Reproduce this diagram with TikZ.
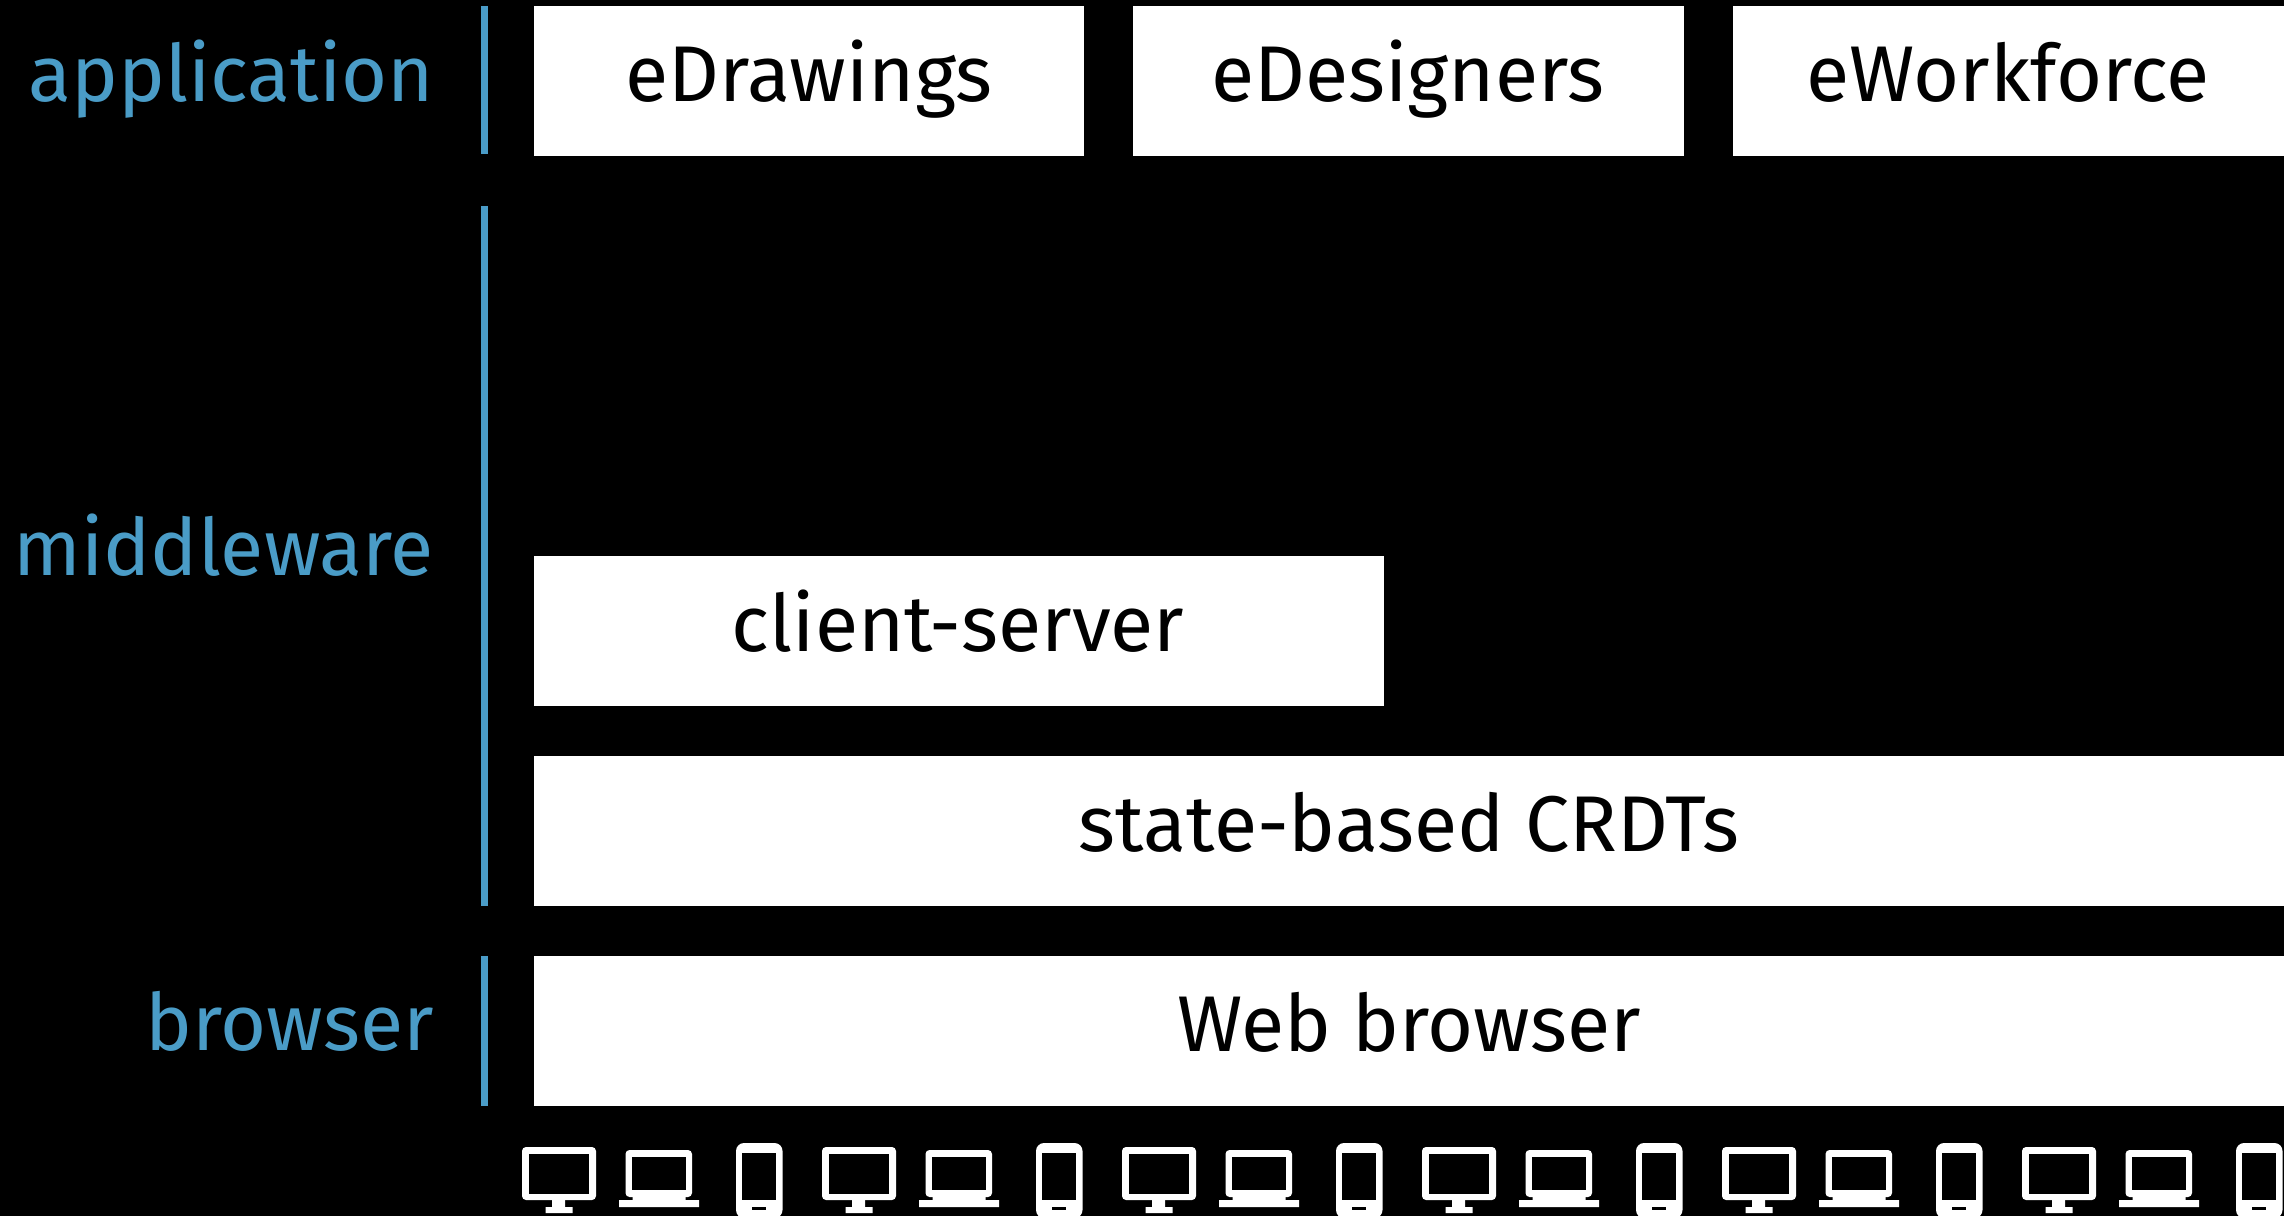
\documentclass[tikz,border=0pt]{standalone}
\usepackage{fontspec}
\setmainfont{Fira Sans}
\definecolor{layerblue}{HTML}{4A9CC7}
\tikzset{
  x=1pt,y=-1pt,
  layerlabel/.style={anchor=base east,inner sep=0pt,text=layerblue,font=\fontsize{79}{90}\selectfont},
  boxtext/.style={anchor=base,inner sep=0pt,text=black,font=\fontsize{79}{90}\selectfont},
}
\begin{document}
\begin{tikzpicture}
\fill[black] (0,0) rectangle (2284,1216);
\useasboundingbox (0,0) rectangle (2284,1216);
% bars
\fill[layerblue] (481,6) rectangle (488,154);
\fill[layerblue] (481,206) rectangle (488,906);
\fill[layerblue] (481,956) rectangle (488,1106);
% labels
\node[layerlabel] (lapp) at (434,101) {application};
\node[layerlabel] (lmid) at (434,575) {middleware};
\node[layerlabel] (lbro) at (434,1050) {browser};
% boxes
\fill[white] (534,6) rectangle (1084,156);
\fill[white] (1133,6) rectangle (1684,156);
\fill[white] (1733,6) rectangle (2284,156);
\fill[white] (534,556) rectangle (1384,706);
\fill[white] (534,756) rectangle (2284,906);
\fill[white] (534,956) rectangle (2284,1106);
\node[boxtext] (t1) at (809,101) {eDrawings};
\node[boxtext] (t2) at (1408,101) {eDesigners};
\node[boxtext] (t3) at (2008,101) {eWorkforce};
\node[boxtext] (t4) at (958,651) {client-server};
\node[boxtext] (t5) at (1409,851) {state-based CRDTs};
\node[boxtext] (t6) at (1409,1051) {Web browser};
% devices
\foreach \i in {0,...,5}{
\begin{scope}[xshift=\i*300pt]
  % desktop
  \fill[white,rounded corners=4pt] (522,1147) rectangle (596,1200);
  \fill[black] (529,1153.5) rectangle (589,1193.5);
  \fill[white] (552,1200) rectangle (565,1207) (545.5,1207) rectangle (572.5,1213);
  % laptop
  \fill[white,rounded corners=4pt] (625.5,1150) rectangle (692,1197);
  \fill[black] (632,1157) rectangle (686,1190);
  \fill[white] (632.5,1195) rectangle (685.5,1201) (619,1200) rectangle (699,1207);
  % phone
  \begin{scope}
  \clip (700,1130) rectangle (800,1216);
  \fill[white,rounded corners=8pt] (736,1143) rectangle (782.5,1218);
  \end{scope}
  \fill[black] (742,1153) rectangle (776,1200);
  \fill[black] (752,1207) rectangle (766,1209.5);
\end{scope}}
\end{tikzpicture}
\end{document}
